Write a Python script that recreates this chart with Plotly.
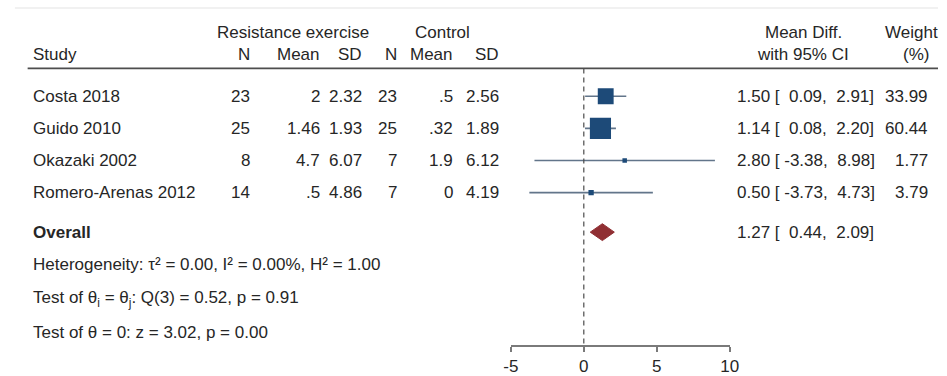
import math
import plotly.graph_objects as go

# ---- study data ----
studies = ["Costa 2018", "Guido 2010", "Okazaki 2002", "Romero-Arenas 2012"]
n_ex = [23, 25, 8, 14]
mean_ex = ["2", "1.46", "4.7", ".5"]
sd_ex = ["2.32", "1.93", "6.07", "4.86"]
n_ctl = [23, 25, 7, 7]
mean_ctl = [".5", ".32", "1.9", "0"]
sd_ctl = ["2.56", "1.89", "6.12", "4.19"]
mean_diff = [1.50, 1.14, 2.80, 0.50]
ci_low = [0.09, 0.08, -3.38, -3.73]
ci_high = [2.91, 2.20, 8.98, 4.73]
weight = [33.99, 60.44, 1.77, 3.79]

overall_md = 1.27
overall_low = 0.44
overall_high = 2.09

x_ticks = [-5, 0, 5, 10]

stats_lines = [
    "Heterogeneity: τ² = 0.00, I² = 0.00%, H² = 1.00",
    "Test of θ<sub>i</sub> = θ<sub>j</sub>: Q(3) = 0.52, p = 0.91",
    "Test of θ = 0: z = 3.02, p = 0.00",
]

# ---- layout constants (pixels) ----
W, H = 947, 376
FONT = "Liberation Sans, Arial, Helvetica, sans-serif"
FS = 17
TXT = "#262626"
NAVY = "#1d4a78"
CI_COL = "#62758a"
MAROON = "#902f33"

row0, row_step = 97, 32.4
row_y = [row0 + i * row_step for i in range(len(studies))]
overall_y = 234
stats_y = [267, 301, 335]
head1_y, head2_y = 33, 55
rule_y = 69
axis_y = 349


def px(x):
    return x / W


fig = go.Figure()

# confidence interval whiskers
xs, ys = [], []
for lo, hi, y in zip(ci_low, ci_high, row_y):
    xs += [lo, hi, None]
    ys += [y, y, None]
fig.add_trace(go.Scatter(x=xs, y=ys, mode="lines",
                         line=dict(color=CI_COL, width=1.6),
                         hoverinfo="skip", showlegend=False))

# study squares, area proportional to weight
fig.add_trace(go.Scatter(
    x=mean_diff, y=row_y, mode="markers",
    marker=dict(symbol="square", color=NAVY, opacity=1,
                size=[max(2.72 * math.sqrt(w), 4.5) for w in weight],
                line=dict(width=0)),
    showlegend=False))

# overall diamond
half_h = 8.5
fig.add_trace(go.Scatter(
    x=[overall_low, overall_md, overall_high, overall_md, overall_low],
    y=[overall_y, overall_y - half_h, overall_y, overall_y + half_h, overall_y],
    mode="lines", fill="toself", fillcolor=MAROON,
    line=dict(color=MAROON, width=1), showlegend=False))

shapes = [
    # no-effect reference line
    dict(type="line", xref="x", yref="y", x0=0, x1=0, y0=rule_y, y1=axis_y,
         line=dict(color="#4a4a4a", width=1.2, dash="5px,4px")),
    # header rule
    dict(type="line", xref="paper", yref="y", x0=px(20), x1=1, y0=rule_y, y1=rule_y,
         line=dict(color="#4d4d4d", width=1.8)),
    # faint frame edge at top
    dict(type="line", xref="paper", yref="y", x0=px(7), x1=1, y0=8, y1=8,
         line=dict(color="#f1f1f1", width=2)),
]

ann = []


def text(x, y, s, anchor="left", bold=False):
    ann.append(dict(x=px(x), y=y, xref="paper", yref="y", text=f"<b>{s}</b>" if bold else s,
                    showarrow=False, xanchor=anchor, yanchor="middle",
                    font=dict(family=FONT, size=FS, color=TXT)))


# headers
text(290, head1_y, "Resistance exercise", "center")
text(442, head1_y, "Control", "center")
text(810, head1_y, "Mean Diff.", "center")
text(920, head1_y, "Weight", "center")
text(23, head2_y, "Study")
col_right = [248, 320, 363, 398, 455, 502]
for x, lab in zip(col_right, ["N", "Mean", "SD", "N", "Mean", "SD"]):
    text(x, head2_y, lab, "right")
text(810, head2_y, "with 95% CI", "center")
text(925, head2_y, "(%)", "center")

NB = "\u00a0"
for i, y in enumerate(row_y):
    text(23, y, studies[i])
    vals = [str(n_ex[i]), mean_ex[i], sd_ex[i], str(n_ctl[i]), mean_ctl[i], sd_ctl[i]]
    for x, v in zip(col_right, vals):
        text(x, y, v, "right")
    ci = f"{mean_diff[i]:.2f} [{ci_low[i]:6.2f}, {ci_high[i]:5.2f}]".replace(" ", NB)
    text(740, y, ci)
    text(939, y, f"{weight[i]:.2f}", "right")

text(23, overall_y, "Overall", bold=True)
text(740, overall_y, f"{overall_md:.2f} [{overall_low:6.2f}, {overall_high:5.2f}]".replace(" ", NB))

for y, s in zip(stats_y, stats_lines):
    text(23, y, s)

fig.update_layout(
    width=W, height=H,
    margin=dict(l=0, r=0, t=0, b=0),
    paper_bgcolor="white", plot_bgcolor="white",
    shapes=shapes, annotations=ann,
    xaxis=dict(domain=[px(512), px(735)], range=[-5, 10], anchor="free",
               position=(H - axis_y) / H,
               tickvals=x_ticks, ticktext=[str(t) for t in x_ticks],
               showline=True, linecolor="#7a7a7a", linewidth=1.5,
               ticks="outside", ticklen=5, tickwidth=1.5, tickcolor="#7a7a7a",
               showgrid=False, zeroline=False,
               tickfont=dict(family=FONT, size=FS, color=TXT)),
    yaxis=dict(domain=[0, 1], range=[H, 0], visible=False,
               showgrid=False, zeroline=False),
)

fig.write_html("out.html")
